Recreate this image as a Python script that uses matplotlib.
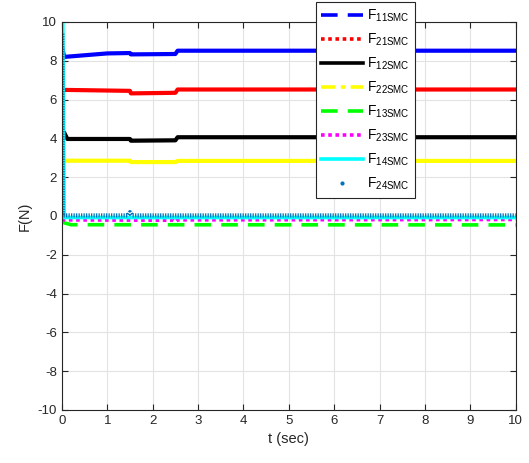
import matplotlib.pyplot as plt
from matplotlib.lines import Line2D

plt.rcParams['font.family'] = ['Liberation Sans', 'DejaVu Sans']
plt.rcParams['mathtext.fontset'] = 'custom'
plt.rcParams['mathtext.rm'] = 'Liberation Sans'
plt.rcParams['axes.unicode_minus'] = False
plt.rcParams['font.size'] = 9

# breakpoints of each SMC force trace (t in sec, F in N)
t11 = [0, 0.05, 1.0, 1.5, 1.52, 2.5, 2.55, 10]
F11 = [8.75, 8.2, 8.38, 8.4, 8.33, 8.35, 8.52, 8.52]
t21 = [0, 0.05, 1.5, 1.52, 2.5, 2.55, 10]
F21 = [6.6, 6.5, 6.45, 6.32, 6.35, 6.52, 6.52]
t12 = [0, 0.05, 0.12, 1.5, 1.52, 2.5, 2.55, 10]
F12 = [4.45, 4.3, 3.97, 3.97, 3.88, 3.9, 4.06, 4.06]
t22 = [0, 0.05, 1.5, 1.52, 2.5, 2.55, 10]
F22 = [2.9, 2.85, 2.85, 2.78, 2.78, 2.84, 2.84]
t13 = [0, 0.05, 0.2, 10]
F13 = [-0.25, -0.35, -0.45, -0.46]
t23 = [0, 0.05, 2.45, 2.5, 2.55, 10]
F23 = [-0.15, -0.2, -0.22, -0.3, -0.2, -0.18]
t14 = [0.02, 0.05, 10]
F14 = [10, -0.08, -0.08]
t24 = [0.01, 0.02, 1.45, 1.5, 1.55, 10]
F24 = [9.4, 0.03, 0.03, 0.2, 0.03, 0.03]

names = ['11', '21', '12', '22', '13', '23', '14', '24']
colors = ['#0000ff', '#ff0000', '#000000', '#ffff00', '#00ff00', '#ff00ff', '#00ffff', '#0072bd']
dash = (0, (4.6, 2.8))
dot = (0, (1, 1))
dashdot = (0, (4, 1.5, 1.2, 1.5))
styles = [dash, dot, '-', dashdot, dash, dot, '-', 'none']

fig = plt.figure(figsize=(5.29, 4.63), dpi=100)
ax = fig.add_axes([0.117, 0.1145, 0.858, 0.838])

lw = 2.6
# noisy traces read as a solid band
ax.plot(t11, F11, color=colors[0], lw=3, ls='-')
ax.plot(t21, F21, color=colors[1], lw=3, ls='-')
ax.plot(t12, F12, color=colors[2], lw=3, ls='-')
ax.plot(t22, F22, color=colors[3], lw=3, ls='-')
ax.plot(t13, F13, color=colors[4], lw=lw, ls=dash)
ax.plot(t23, F23, color=colors[5], lw=lw, ls=dot)
ax.plot(t14, F14, color=colors[6], lw=lw, ls='-')
ax.plot(t24, F24, color=colors[7], lw=3, ls=(0, (0.3, 0.3)), solid_capstyle='round')

handles = []
for c, s in zip(colors, styles):
    if s == 'none':
        handles.append(Line2D([], [], ls='none', marker='.', ms=4, color=c))
    else:
        handles.append(Line2D([], [], ls=s, lw=lw, color=c))
labels = [r'F$_{\mathrm{%sSMC}}$' % n for n in names]

ax.set_xlim(0, 10)
ax.set_ylim(-10, 10)
ax.set_xticks(range(0, 11))
ax.set_yticks(range(-10, 11, 2))
ax.grid(True, color='#e3e3e3', lw=0.8)
ax.set_axisbelow(True)
ax.tick_params(direction='in', length=4, width=0.8, top=True, right=True, colors='#262626', labelsize=9.5)
for s in ax.spines.values():
    s.set_color('#262626')
    s.set_linewidth(0.8)

ax.set_xlabel('t (sec)', fontsize=10.5, color='#262626')
ax.set_ylabel('F(N)', fontsize=10.5, color='#262626')

leg = ax.legend(handles, labels, loc='upper left', bbox_to_anchor=(0.559, 1.052),
                fontsize=10, handlelength=3.0, handletextpad=0.3, labelspacing=0.55,
                borderpad=0.4, borderaxespad=0, fancybox=False, framealpha=1,
                edgecolor='#262626')
leg.get_frame().set_linewidth(0.8)

plt.savefig('out.png', dpi=100)
